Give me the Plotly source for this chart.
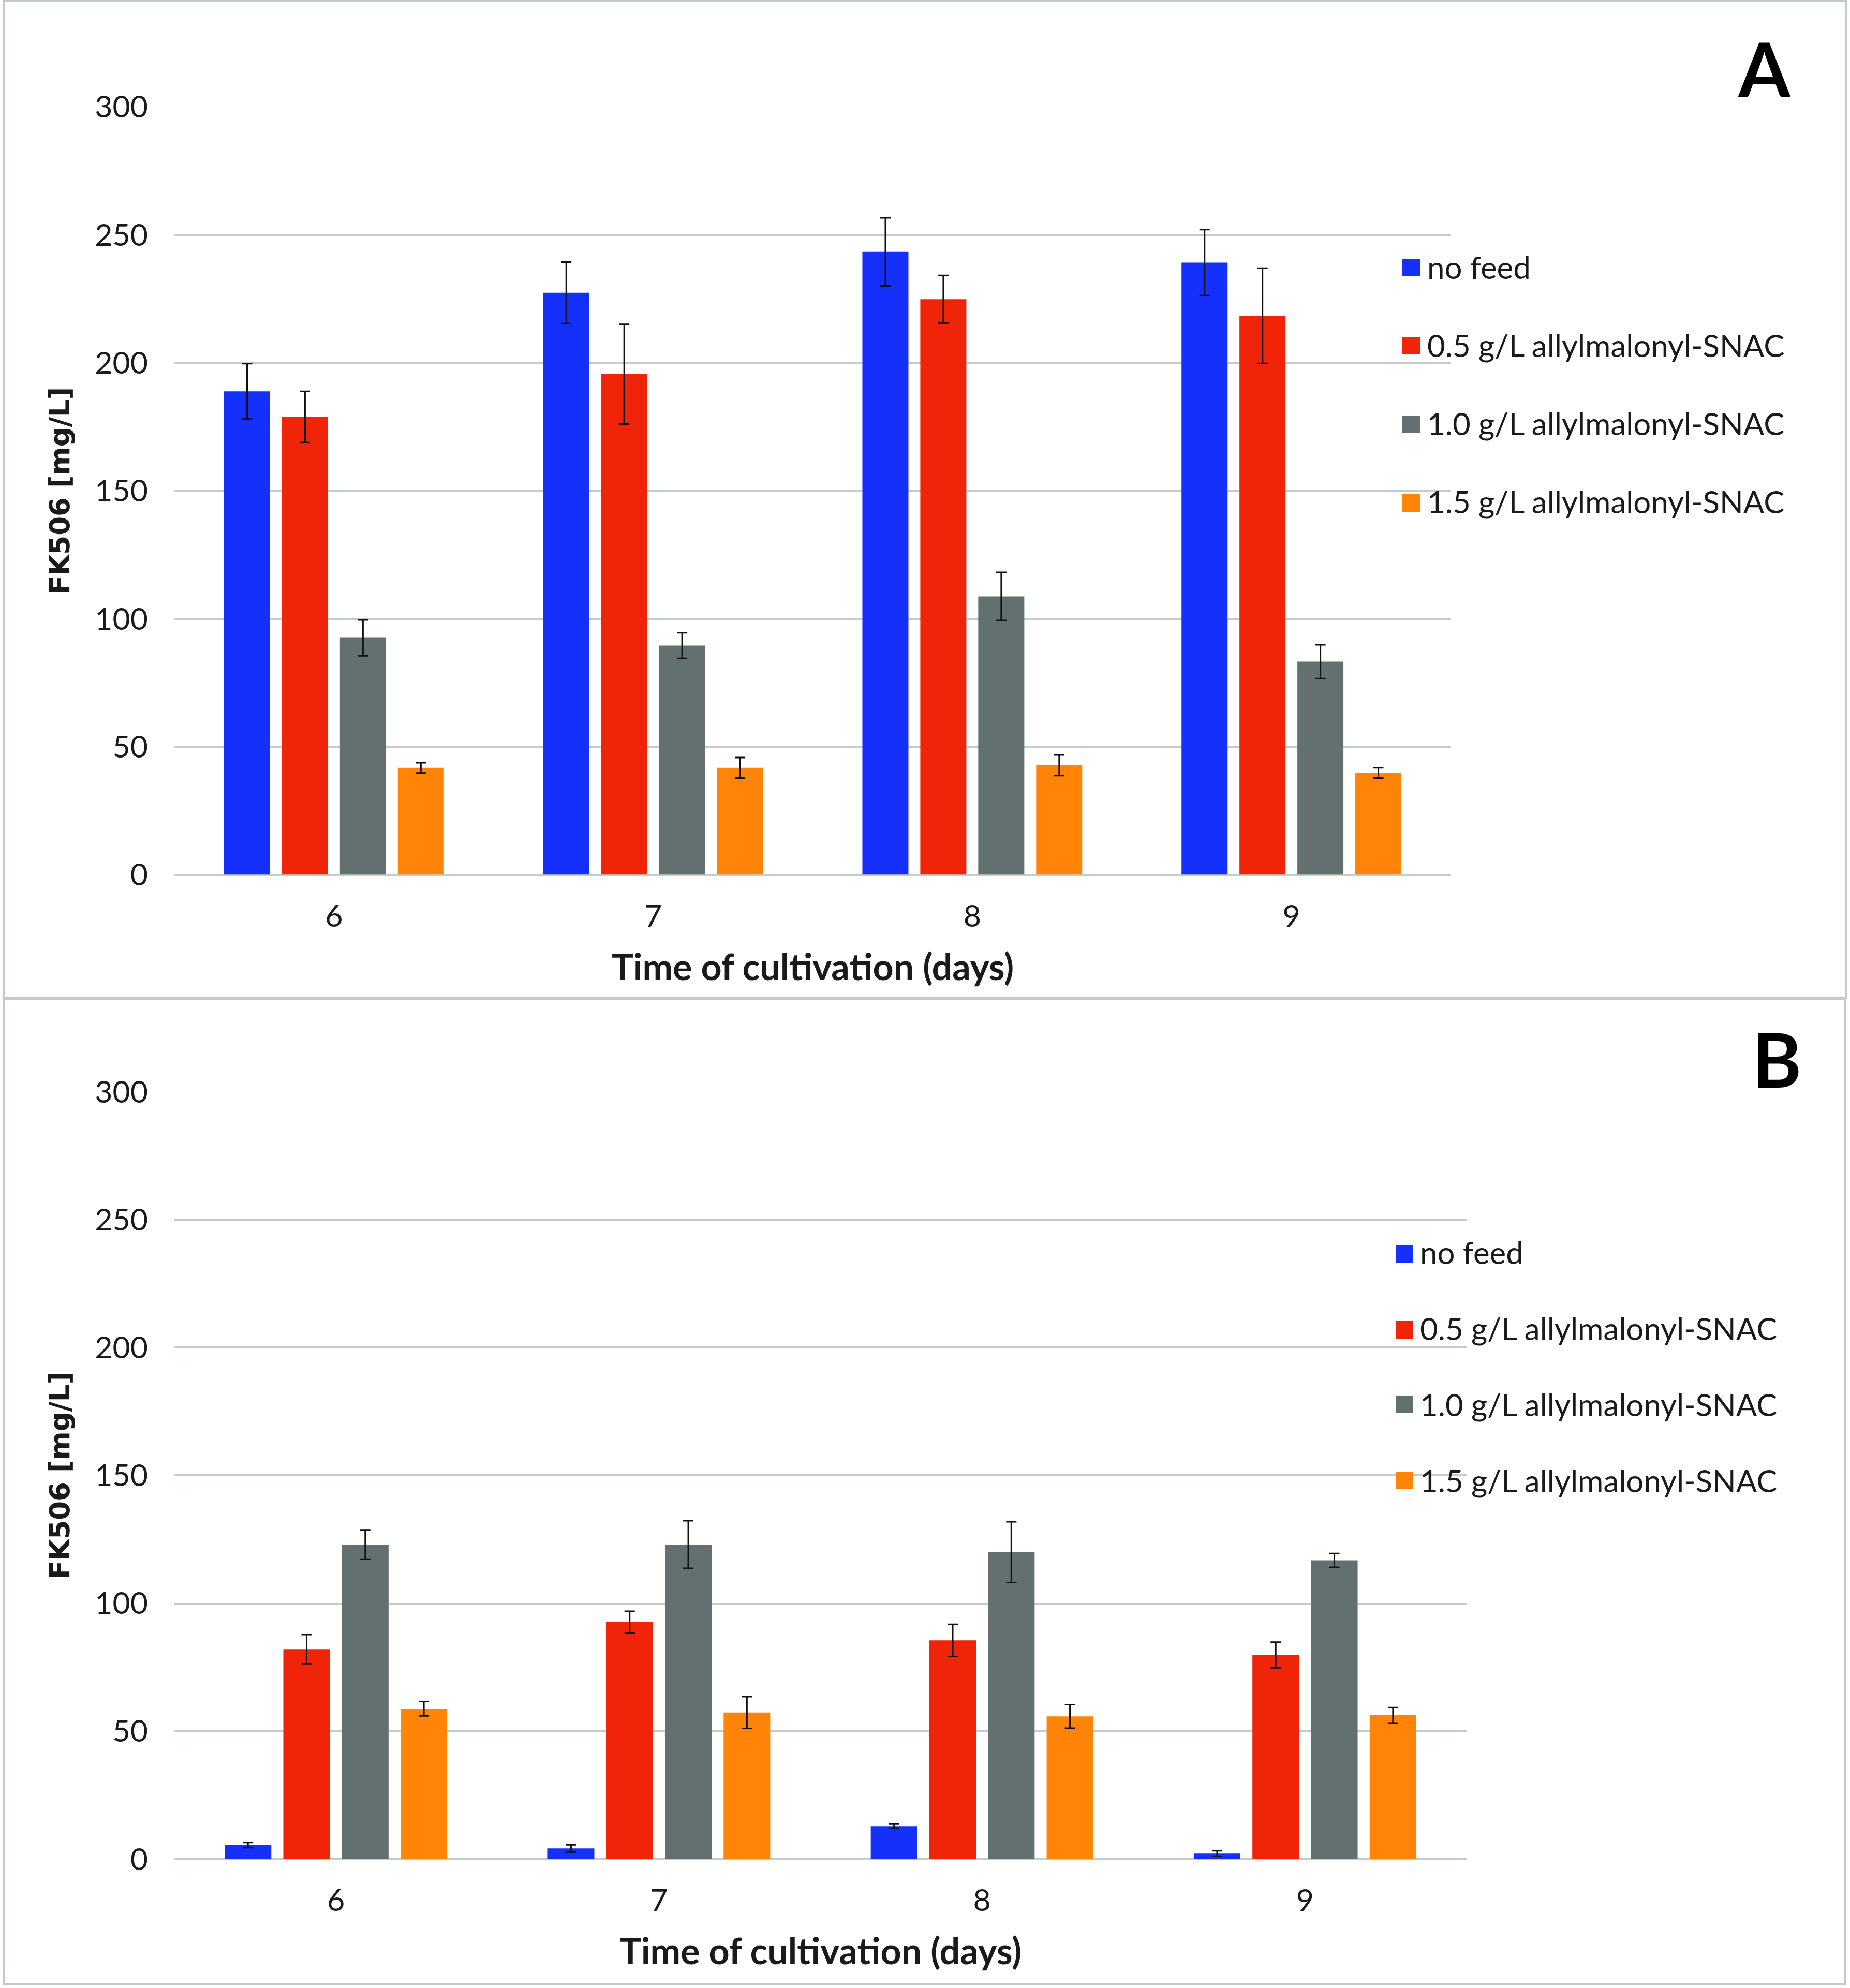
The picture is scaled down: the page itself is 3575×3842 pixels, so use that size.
import plotly.graph_objects as go

days = ["6", "7", "8", "9"]
series_names = ["no feed", "0.5 g/L allylmalonyl-SNAC", "1.0 g/L allylmalonyl-SNAC", "1.5 g/L allylmalonyl-SNAC"]
colors = ["#1530FA", "#F02408", "#627170", "#FF8408"]

# Panel A values (mg/L) and errors
a_nofeed = [188.9, 227.4, 243.4, 239.2]
a_05 = [178.9, 195.6, 224.9, 218.4]
a_10 = [92.6, 89.6, 108.8, 83.3]
a_15 = [41.8, 41.8, 42.8, 39.8]
a_nofeed_err = [10.8, 12.0, 13.3, 12.9]
a_05_err = [10.0, 19.5, 9.3, 18.6]
a_10_err = [7.0, 5.0, 9.4, 6.6]
a_15_err = [2.0, 4.0, 4.0, 2.0]

# Panel B values (mg/L) and errors
b_nofeed = [5.5, 4.2, 12.9, 2.2]
b_05 = [82.1, 92.7, 85.5, 79.8]
b_10 = [123.0, 123.0, 120.0, 116.8]
b_15 = [58.8, 57.3, 55.8, 56.3]
b_nofeed_err = [1.0, 1.4, 0.8, 1.1]
b_05_err = [5.7, 4.2, 6.3, 5.0]
b_10_err = [5.7, 9.3, 11.9, 2.7]
b_15_err = [2.8, 6.2, 4.6, 3.1]

y_ticks = [0, 50, 100, 150, 200, 250, 300]

W, H = 3575, 3842
FONT = "Lato"
TXT = "#1a1a1a"

fig = go.Figure()

panels = [
    ("x", "y", "legend", [a_nofeed, a_05, a_10, a_15], [a_nofeed_err, a_05_err, a_10_err, a_15_err], "A"),
    ("x2", "y2", "legend2", [b_nofeed, b_05, b_10, b_15], [b_nofeed_err, b_05_err, b_10_err, b_15_err], "B"),
]
for xa, ya, lg, vals, errs, tag in panels:
    for i, name in enumerate(series_names):
        fig.add_trace(go.Bar(
            x=days, y=vals[i], name=name, marker=dict(color=colors[i], line=dict(width=0)),
            error_y=dict(type="data", array=errs[i], visible=True, color="#111111", thickness=3, width=10),
            xaxis=xa, yaxis=ya, legend=lg, legendgroup=tag + str(i),
        ))

grid = "#C5CCCC"
axis_common = dict(showline=False, ticks="", tickfont=dict(family=FONT, size=59, color=TXT))
yax = dict(range=[0, 300], tickvals=y_ticks, showgrid=True, gridcolor=grid, gridwidth=4,
           zeroline=True, zerolinecolor=grid, zerolinewidth=4, ticklabelstandoff=50,
           automargin=False, fixedrange=True, **axis_common)
xax = dict(type="category", showgrid=False, zeroline=False, ticklabelstandoff=40,
           automargin=False, **axis_common)

fig.update_layout(
    width=W, height=H, margin=dict(l=0, r=0, t=0, b=0),
    paper_bgcolor="white", plot_bgcolor="white",
    barmode="group", bargap=0.274, bargroupgap=0.205,
    xaxis=dict(domain=[0.09427, 0.78434], anchor="y", **xax),
    yaxis=dict(domain=[0.55997, 0.9462], anchor="x", **yax),
    xaxis2=dict(domain=[0.09427, 0.79273], anchor="y2", **xax),
    yaxis2=dict(domain=[0.06481, 0.45081], anchor="x2", **yax),
    legend=dict(x=2718 / W, y=1 - 470 / H, xanchor="left", yanchor="top",
                font=dict(family=FONT, size=60, color=TXT), traceorder="grouped",
                tracegroupgap=70, bgcolor="rgba(0,0,0,0)"),
    legend2=dict(x=2704 / W, y=1 - 2374 / H, xanchor="left", yanchor="top",
                 font=dict(family=FONT, size=60, color=TXT), traceorder="grouped",
                 tracegroupgap=66, bgcolor="rgba(0,0,0,0)"),
    showlegend=True,
)

# panel frames
fig.add_shape(type="rect", xref="paper", yref="paper", x0=8 / W, x1=3567 / W, y0=1 - 1929 / H, y1=1 - 2 / H,
              line=dict(color="#C3CACA", width=4))
fig.add_shape(type="rect", xref="paper", yref="paper", x0=8 / W, x1=3565 / W, y0=1 - 3834 / H, y1=1 - 1931 / H,
              line=dict(color="#C3CACA", width=4))

# enlarge legend swatches (same colour squares behind plotly's small legend icons)
legend_sw = [(2709, 2745, [517, 668, 820, 972]), (2697, 2731, [2423, 2570, 2714, 2861])]
for x0, x1, ycs in legend_sw:
    for c, yc in zip(colors, ycs):
        fig.add_shape(type="rect", xref="paper", yref="paper", x0=x0 / W, x1=x1 / W,
                      y0=1 - (yc + 17) / H, y1=1 - (yc - 17) / H,
                      line=dict(width=0), fillcolor=c, layer="above")

annos = [
    dict(text="FK506 [mg/L]", x=115 / W, y=1 - 948 / H, textangle=-90,
         font=dict(family="DejaVu Sans", size=53, color=TXT, weight="bold")),
    dict(text="FK506 [mg/L]", x=115 / W, y=1 - 2851 / H, textangle=-90,
         font=dict(family="DejaVu Sans", size=53, color=TXT, weight="bold")),
    dict(text="Time of cultivation (days)", x=1570 / W, y=1 - 1867 / H,
         font=dict(family=FONT, size=70, color=TXT, weight="bold")),
    dict(text="Time of cultivation (days)", x=1585 / W, y=1 - 3769 / H,
         font=dict(family=FONT, size=70, color=TXT, weight="bold")),
    dict(text="A", x=3409 / W, y=1 - 132 / H, font=dict(family=FONT, size=145, color="#000000", weight="bold")),
    dict(text="B", x=3433 / W, y=1 - 2046 / H, font=dict(family=FONT, size=145, color="#000000", weight="bold")),
]
for a in annos:
    fig.add_annotation(xref="paper", yref="paper", showarrow=False, xanchor="center", yanchor="middle", **a)

fig.write_html("out.html")
